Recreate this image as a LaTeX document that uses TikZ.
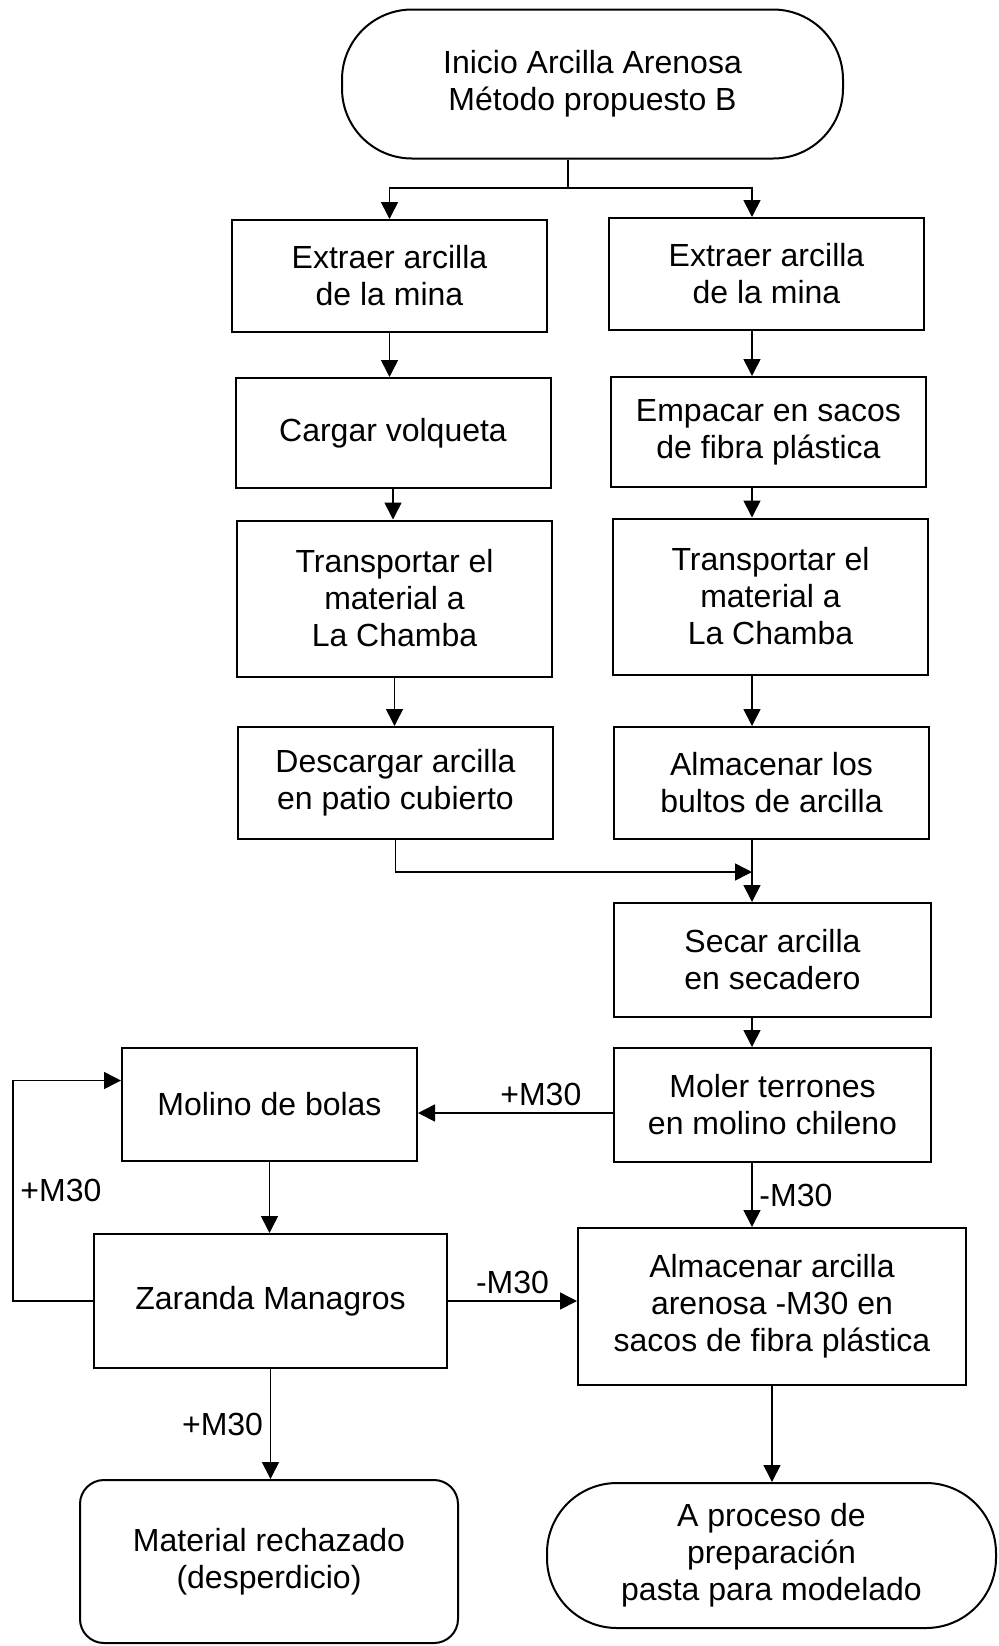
\documentclass[tikz,border=0pt]{standalone}
\usepackage{fontspec}
\setmainfont{Liberation Sans}
\usetikzlibrary{arrows.meta,calc}
\tikzset{
        >={Triangle[length=8.5pt,width=8.5pt]}, % filled arrow heads
        proc/.style={draw, line width=1pt, align=center, inner sep=2pt,
            minimum width=157.5pt, minimum height=56pt}, % process boxes
        term/.style={proc, rounded corners=35pt}, % start and end
        flow/.style={->, line width=0.8pt},
    }

\begin{document}
\begin{tikzpicture}[x=0.5pt,y=-0.5pt,font=\fontsize{16}{18.5}\selectfont]
    \useasboundingbox (0,0) rectangle (998,1646);

    % left and right columns
    \node[term, minimum width=250.5pt, minimum height=74.5pt] (start) at (592.5,84) {Inicio Arcilla Arenosa\\Método propuesto B};
    \node[proc] (ext1) at (389.5,276) {Extraer arcilla\\de la mina};
    \node[proc] (ext2) at (766.5,274) {Extraer arcilla\\de la mina};
    \node[proc, minimum height=55pt] (carg) at (393,433) {Cargar volqueta};
    \node[proc, minimum height=55pt] (emp) at (768.5,432) {Empacar en sacos\\de fibra plástica};
    \node[proc, minimum height=78pt] (trans1) at (394.5,598.5) {Transportar el\\material a\\La Chamba};
    \node[proc, minimum height=78pt] (trans2) at (770.5,596.5) {Transportar el\\material a\\La Chamba};
    \node[proc] (desc) at (395.5,783) {Descargar arcilla\\en patio cubierto};
    \node[proc] (alm1) at (771.5,783) {Almacenar los\\bultos de arcilla};
    \node[proc, minimum width=158.5pt, minimum height=57pt] (secar) at (772.5,960) {Secar arcilla\\en secadero};
    \node[proc, minimum width=158.5pt, minimum height=57pt] (moler) at (772.5,1105) {Moler terrones\\en molino chileno};

    % milling and screening
    \node[proc, minimum width=147.5pt, minimum height=56.5pt] (bolas) at (269.5,1104.5) {Molino de bolas};
    \node[proc, minimum width=176.5pt, minimum height=67pt] (zar) at (270.5,1301) {Zaranda Managros};
    \node[proc, minimum width=194pt, minimum height=78.5pt] (alm2) at (772,1306.5) {Almacenar arcilla\\arenosa -M30 en\\sacos de fibra plástica};
    \node[proc, rounded corners=12pt, minimum width=189pt, minimum height=81.5pt] (rech) at (269,1561.5) {Material rechazado\\(desperdicio)};
    \node[term, minimum width=224.5pt, minimum height=72.5pt] (fin) at (771.5,1555.5) {A proceso de\\preparación\\pasta para modelado};

    \coordinate (split) at (568,188);
    \coordinate (rx) at (752,0);
    \coordinate (join) at (752,872);

    \draw[line width=0.8pt] (start.south -| split) -- (split);
    \draw[flow] (split) -| (ext1.north);
    \draw[flow] (split) -| (ext2.north -| rx);

    \draw[flow] (ext1.south) -- (ext1.south |- carg.north);
    \draw[flow] (carg.south) -- (carg.south |- trans1.north);
    \draw[flow] (trans1.south) -- (trans1.south |- desc.north);
    \draw[flow] (ext2.south -| rx) -- (emp.north -| rx);
    \draw[flow] (emp.south -| rx) -- (trans2.north -| rx);
    \draw[flow] (trans2.south -| rx) -- (alm1.north -| rx);

    \draw[flow] (desc.south) |- (join);
    \draw[flow] (alm1.south -| rx) -- (secar.north -| rx);
    \draw[flow] (secar.south -| rx) -- (moler.north -| rx);

    \draw[flow] ([yshift=-4pt]moler.west) -- ([yshift=-4pt]moler.west -| bolas.east) node[pos=0.37, above] {+M30};
    \draw[flow] (moler.south -| rx) -- (alm2.north -| rx) node[midway, right] {-M30};
    \draw[flow] (bolas.south) -- (bolas.south |- zar.north);
    \draw[flow] (zar.west) -- ++(-80,0) |- ([yshift=12pt]bolas.west) node[pos=0.25, right] {+M30};
    \draw[flow] (zar.east) -- (zar.east -| alm2.west) node[midway, above] {-M30};
    \draw[flow] (zar.south) -- (zar.south |- rech.north) node[midway, left] {+M30};
    \draw[flow] (alm2.south) -- (alm2.south |- fin.north);
\end{tikzpicture}
\end{document}
